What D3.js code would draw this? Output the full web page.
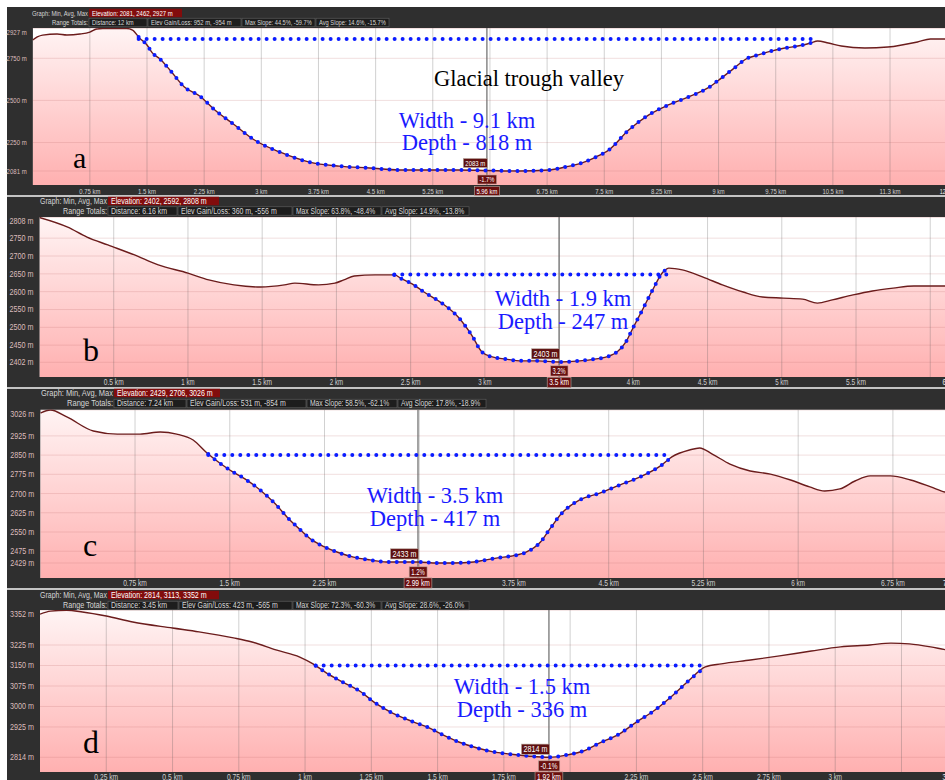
<!DOCTYPE html>
<html>
<head>
<meta charset="utf-8">
<script src="https://cdn.jsdelivr.net/npm/d3@7"></script>
<style>
  body { margin: 0; background: #fff; }
  svg { display: block; font-family: "Liberation Sans", Arial, sans-serif; }
</style>
</head>
<body>
<svg id="chart"></svg>
<script>
// ---------- data: [distance km, elevation m] ----------
const aProfile = [[0,2859],[0.06,2877],[0.13,2888],[0.32,2894],[0.45,2888],[0.62,2894],[0.75,2906],[0.84,2924],[0.92,2927],[1.23,2927],[1.31,2918],[1.40,2871],[1.50,2829],[1.57,2782],[1.67,2746],[1.80,2681],[1.99,2580],[2.19,2526],[2.39,2443],[2.65,2354],[2.91,2265],[3.24,2194],[3.63,2134],[4.02,2110],[4.42,2099],[4.81,2087],[5.20,2087],[5.59,2087],[5.96,2084],[6.38,2081],[6.77,2087],[6.99,2105],[7.20,2128],[7.39,2164],[7.56,2206],[7.82,2324],[8.08,2413],[8.34,2473],[8.60,2520],[8.86,2574],[9.0,2620],[9.2,2690],[9.36,2746],[9.52,2770],[9.69,2793],[9.87,2811],[10.04,2823],[10.21,2841],[10.30,2853],[10.44,2841],[10.61,2823],[10.92,2811],[11.22,2817],[11.61,2847],[11.78,2865],[11.94,2865],[12,2865]];
const bProfile = [[0,2808],[0.19,2781],[0.32,2753],[0.46,2731],[0.64,2703],[0.80,2675],[1.0,2652],[1.14,2633],[1.31,2619],[1.49,2613],[1.65,2619],[1.72,2624],[1.88,2619],[1.99,2624],[2.05,2633],[2.12,2644],[2.26,2647],[2.39,2647],[2.44,2636],[2.51,2622],[2.59,2599],[2.71,2568],[2.82,2529],[2.91,2479],[2.98,2431],[3.05,2417],[3.14,2411],[3.25,2406],[3.36,2406],[3.5,2403],[3.64,2406],[3.74,2411],[3.84,2420],[3.89,2431],[3.95,2459],[3.99,2492],[4.06,2548],[4.13,2605],[4.2,2655],[4.24,2666],[4.33,2661],[4.47,2641],[4.60,2619],[4.74,2599],[4.87,2585],[5.01,2582],[5.14,2579],[5.24,2568],[5.34,2577],[5.48,2591],[5.61,2602],[5.75,2610],[5.89,2616],[6.02,2616],[6.16,2616]];
const cProfile = [[0,3014],[0.08,3026],[0.21,2999],[0.42,2944],[0.61,2932],[0.79,2932],[0.95,2940],[1.08,2932],[1.21,2909],[1.32,2858],[1.42,2819],[1.50,2792],[1.62,2757],[1.74,2714],[1.86,2660],[1.96,2605],[2.06,2558],[2.15,2519],[2.25,2492],[2.37,2468],[2.48,2452],[2.61,2441],[2.74,2433],[2.87,2433],[2.99,2433],[3.14,2429],[3.27,2429],[3.43,2433],[3.48,2437],[3.62,2449],[3.74,2457],[3.85,2472],[3.96,2511],[4.04,2566],[4.13,2624],[4.27,2675],[4.43,2702],[4.59,2734],[4.75,2765],[4.91,2808],[5.0,2843],[5.14,2870],[5.22,2878],[5.32,2854],[5.46,2815],[5.62,2788],[5.78,2776],[5.94,2753],[6.09,2726],[6.21,2710],[6.33,2718],[6.45,2749],[6.57,2769],[6.73,2769],[6.89,2753],[7.05,2726],[7.16,2706],[7.24,2700]];
const dProfile = [[0,3338],[0.04,3349],[0.10,3352],[0.16,3346],[0.25,3331],[0.35,3309],[0.50,3287],[0.60,3273],[0.73,3251],[0.80,3236],[0.89,3207],[0.98,3181],[1.03,3156],[1.08,3123],[1.14,3090],[1.21,3054],[1.26,3016],[1.33,2976],[1.41,2943],[1.47,2921],[1.52,2896],[1.58,2870],[1.65,2848],[1.71,2834],[1.77,2826],[1.84,2819],[1.92,2814],[1.99,2823],[2.05,2837],[2.11,2866],[2.18,2896],[2.25,2943],[2.32,2987],[2.38,3035],[2.45,3097],[2.51,3145],[2.57,3156],[2.68,3170],[2.79,3185],[2.91,3203],[3.02,3218],[3.13,3225],[3.21,3232],[3.28,3229],[3.36,3218],[3.42,3207],[3.45,3203]];

// y-axis tick labels (top -> bottom), x-axis ticks (km)
const aYTicks = [2927, 2750, 2500, 2250, 2081];
const bYTicks = [2808, 2750, 2700, 2650, 2600, 2550, 2500, 2450, 2402];
const cYTicks = [3026, 2925, 2850, 2775, 2700, 2625, 2550, 2475, 2429];
const dYTicks = [3352, 3225, 3150, 3075, 3000, 2925, 2814];
const aXTicks = [0.75, 1.5, 2.25, 3, 3.75, 4.5, 5.25, 6, 6.75, 7.5, 8.25, 9, 9.75, 10.5, 11.25];
const aXLabels = ['0.75 km', '1.5 km', '2.25 km', '3 km', '3.75 km', '4.5 km', '5.25 km', '', '6.75 km', '7.5 km', '8.25 km', '9 km', '9.75 km', '10.5 km', '11.3 km'];
const bXTicks = [0.5, 1, 1.5, 2, 2.5, 3, 3.5, 4, 4.5, 5, 5.5, 6];
const bXLabels = ['0.5 km', '1 km', '1.5 km', '2 km', '2.5 km', '3 km', '', '4 km', '4.5 km', '5 km', '5.5 km', ''];
const cXTicks = [0.75, 1.5, 2.25, 3, 3.75, 4.5, 5.25, 6, 6.75];
const cXLabels = ['0.75 km', '1.5 km', '2.25 km', '', '3.75 km', '4.5 km', '5.25 km', '6 km', '6.75 km'];
const dXTicks = [0.25, 0.5, 0.75, 1, 1.25, 1.5, 1.75, 2, 2.25, 2.5, 2.75, 3, 3.25];
const dXLabels = ['0.25 km', '0.5 km', '0.75 km', '1 km', '1.25 km', '1.5 km', '1.75 km', '', '2.25 km', '2.5 km', '2.75 km', '3 km', ''];

// total distance of each profile
const aLength = 12, bLength = 6.16, cLength = 7.24, dLength = 3.45;
const endLabels = ['12 km', '6.16 km', '7.24 km', '3.45 km'];

// header statistics
const aHeader = ['Elevation: 2081, 2462, 2927 m', 'Distance: 12 km', 'Elev Gain/Loss: 952 m, -954 m', 'Max Slope: 44.5%, -59.7%', 'Avg Slope: 14.6%, -15.7%'];
const bHeader = ['Elevation: 2402, 2592, 2808 m', 'Distance: 6.16 km', 'Elev Gain/Loss: 360 m, -556 m', 'Max Slope: 63.8%, -48.4%', 'Avg Slope: 14.9%, -13.8%'];
const cHeader = ['Elevation: 2429, 2706, 3026 m', 'Distance: 7.24 km', 'Elev Gain/Loss: 531 m, -854 m', 'Max Slope: 58.5%, -62.1%', 'Avg Slope: 17.8%, -18.9%'];
const dHeader = ['Elevation: 2814, 3113, 3352 m', 'Distance: 3.45 km', 'Elev Gain/Loss: 423 m, -565 m', 'Max Slope: 72.3%, -60.3%', 'Avg Slope: 28.6%, -26.0%'];

// cursor: [km, elevation label, slope label, distance label]
const aCursor = [5.96, '2083 m', '-1.7%', '5.96 km'];
const bCursor = [3.5, '2403 m', '3.2%', '3.5 km'];
const cCursor = [2.99, '2433 m', '1.2%', '2.99 km'];
const dCursor = [1.92, '2814 m', '-0.1%', '1.92 km'];

// valley rim: [left km, right km, rim elevation m]
const aRim = [1.39, 10.30, 2865];
const bRim = [2.39, 4.23, 2648];
const cRim = [1.33, 5.0, 2850];
const dRim = [1.04, 2.51, 3150];

const widthLabels = ['Width - 9.1 km', 'Width - 1.9 km', 'Width - 3.5 km', 'Width - 1.5 km'];
const depthLabels = ['Depth - 818 m', 'Depth - 247 m', 'Depth - 417 m', 'Depth - 336 m'];
const panelLetters = ['a', 'b', 'c', 'd'];

// ---------- layout ----------
const W = 945, H = 780;
const svg = d3.select('#chart').attr('width', W).attr('height', H);
svg.append('rect').attr('width', W).attr('height', H).attr('fill', '#fff');
const defs = svg.append('defs');

// cw* = average char width used to squeeze the small UI font
const panels = [
  { profile: aProfile, yTicks: aYTicks, xTicks: aXTicks, xLabels: aXLabels, length: aLength, header: aHeader, cursor: aCursor, rim: aRim,
    top: 7, bottom: 195, x0: 32.7, pTop: 28, pBottom: 185, yRange: [171, 28.5], fs: 7.5, xLabelY: 191,
    cwH: 2.78, cwX: 3.0, cwY: 3.35, graphW: 56, rangeW: 36,
    split: 88, hy1: 13, hy2: 22.5, hh: 8.5, c1: [89, 182], c2: [89, 148, 242, 316, 390],
    letter: [73, 168, 30], note: [467, 128, 150] },
  { profile: bProfile, yTicks: bYTicks, xTicks: bXTicks, xLabels: bXLabels, length: bLength, header: bHeader, cursor: bCursor, rim: bRim,
    top: 197, bottom: 387, x0: 39.5, pTop: 217, pBottom: 377, yRange: [362.3, 217.5], fs: 8.5, xLabelY: 382.5,
    cwH: 3.3, cwX: 3.3, cwY: 4.0, graphW: 67, rangeW: 44,
    split: 107, hy1: 201, hy2: 211, hh: 8.5, c1: [108, 219], c2: [108, 178, 293, 382, 470],
    letter: [83, 361, 32], note: [563, 306, 329] },
  { profile: cProfile, yTicks: cYTicks, xTicks: cXTicks, xLabels: cXLabels, length: cLength, header: cHeader, cursor: cCursor, rim: cRim,
    top: 389, bottom: 588, x0: 40.3, pTop: 409.5, pBottom: 578, yRange: [563, 410], fs: 8.5, xLabelY: 583,
    cwH: 3.3, cwX: 3.4, cwY: 4.0, graphW: 72, rangeW: 46,
    split: 113, hy1: 393, hy2: 403.5, hh: 8.5, c1: [114, 220], c2: [114, 187, 307, 398, 487],
    letter: [83, 556, 32], note: [435, 503, 526] },
  { profile: dProfile, yTicks: dYTicks, xTicks: dXTicks, xLabels: dXLabels, length: dLength, header: dHeader, cursor: dCursor, rim: dRim,
    top: 590, bottom: 780, x0: 40, pTop: 610, pBottom: 772, yRange: [757.3, 610.3], fs: 8.5, xLabelY: 777,
    cwH: 3.3, cwX: 3.4, cwY: 4.0, graphW: 67, rangeW: 44,
    split: 107, hy1: 595, hy2: 605.5, hh: 8.5, c1: [108, 219], c2: [108, 179, 293, 382, 470],
    letter: [83, 753, 32], note: [522, 694, 717] }
];

// light separators between panels
[[195, 197], [387, 389], [588, 590]].forEach(([a, b]) => {
  svg.append('rect').attr('x', 7).attr('y', a).attr('width', W - 7).attr('height', b - a).attr('fill', '#c4c4c4');
});

function squeeze(sel, w) {
  return sel.attr('textLength', w).attr('lengthAdjust', 'spacingAndGlyphs');
}

function labelBox(g, cx, cy, text, fs, anchor, fill, w) {
  const t = g.append('text')
    .attr('x', cx).attr('y', cy).attr('dy', '0.35em')
    .attr('font-size', fs).attr('fill', '#fff')
    .attr('text-anchor', anchor).text(text);
  squeeze(t, w);
  const bb = t.node().getBBox();
  g.insert('rect', () => t.node())
    .attr('x', bb.x - 2).attr('y', cy - fs * 0.6)
    .attr('width', bb.width + 4).attr('height', fs * 1.2)
    .attr('fill', fill).attr('stroke', '#b9aaa0').attr('stroke-width', 0.6);
}

function elevAt(profile, km) {
  const i = d3.bisector(d => d[0]).left(profile, km);
  if (i <= 0) return profile[0][1];
  if (i >= profile.length) return profile[profile.length - 1][1];
  const a = profile[i - 1], b = profile[i];
  return a[1] + (b[1] - a[1]) * (km - a[0]) / (b[0] - a[0]);
}

const serif = '"Liberation Serif", "Times New Roman", serif';

panels.forEach((p, i) => {
  const g = svg.append('g');
  // dark frame
  g.append('rect').attr('x', 7).attr('y', p.top).attr('width', W - 7).attr('height', p.bottom - p.top).attr('fill', '#2f2f2f');

  // the full profile spans ~914px, so the far end runs past the window
  const x = d3.scaleLinear().domain([0, p.length]).range([p.x0, p.x0 + 914.5]);
  const y = d3.scaleLinear().domain([p.yTicks[p.yTicks.length - 1], p.yTicks[0]]).range(p.yRange);

  defs.append('clipPath').attr('id', 'clip' + i)
    .append('rect').attr('x', p.x0).attr('y', p.pTop).attr('width', W - p.x0).attr('height', p.pBottom - p.pTop);
  const grad = defs.append('linearGradient').attr('id', 'grad' + i)
    .attr('gradientUnits', 'userSpaceOnUse').attr('x1', 0).attr('x2', 0).attr('y1', p.pTop).attr('y2', p.pBottom);
  grad.append('stop').attr('offset', 0).attr('stop-color', '#fff4f4');
  grad.append('stop').attr('offset', 1).attr('stop-color', '#ffb0b0');

  const plot = g.append('g').attr('clip-path', `url(#clip${i})`);
  plot.append('rect').attr('x', p.x0).attr('y', p.pTop).attr('width', W - p.x0).attr('height', p.pBottom - p.pTop).attr('fill', '#fff');

  const area = d3.area().x(d => x(d[0])).y0(p.pBottom).y1(d => y(d[1])).curve(d3.curveMonotoneX);
  plot.append('path').datum(p.profile).attr('d', area).attr('fill', `url(#grad${i})`);

  // grid
  plot.selectAll('.hg').data(p.yTicks).enter().append('line')
    .attr('x1', p.x0).attr('x2', W).attr('y1', d => y(d)).attr('y2', d => y(d))
    .attr('stroke', 'rgba(190,110,110,0.22)').attr('stroke-width', 1);
  plot.selectAll('.vg').data(p.xTicks).enter().append('line')
    .attr('x1', d => x(d)).attr('x2', d => x(d)).attr('y1', p.pTop).attr('y2', p.pBottom)
    .attr('stroke', 'rgba(90,90,90,0.28)').attr('stroke-width', 1);

  // cursor line
  plot.append('line').attr('x1', x(p.cursor[0])).attr('x2', x(p.cursor[0]))
    .attr('y1', p.pTop).attr('y2', p.pBottom).attr('stroke', '#6a6a6a').attr('stroke-width', 1.2);

  // profile line
  const line = d3.line().x(d => x(d[0])).y(d => y(d[1])).curve(d3.curveMonotoneX);
  plot.append('path').datum(p.profile).attr('d', line)
    .attr('fill', 'none').attr('stroke', '#6b1c1c').attr('stroke-width', 1.4);

  // valley dotted outline
  const [rl, rr, re] = p.rim;
  const valley = [[rl, elevAt(p.profile, rl)]]
    .concat(p.profile.filter(d => d[0] > rl && d[0] < rr))
    .concat([[rr, elevAt(p.profile, rr)]]);
  const dotStyle = s => s.attr('fill', 'none').attr('stroke', '#0b1cff').attr('stroke-width', 4)
    .attr('stroke-linecap', 'round').attr('stroke-dasharray', '0 8');
  plot.append('path').datum([[rl, re], [rr, re]]).attr('d', d3.line().x(d => x(d[0])).y(d => y(d[1]))).call(dotStyle);
  plot.append('path').datum(valley).attr('d', line).call(dotStyle);

  // y labels
  g.selectAll('.yl').data(p.yTicks).enter().append('text')
    .attr('x', p.x0 - 6).attr('y', d => Math.min(Math.max(y(d), p.pTop + 4.5), p.pBottom - 5))
    .attr('dy', '0.35em').attr('text-anchor', 'end')
    .attr('font-size', p.fs).attr('fill', '#dcbcbc').text(d => d + ' m')
    .call(s => squeeze(s, 6 * p.cwY));

  // x labels
  p.xTicks.forEach((t, k) => {
    if (!p.xLabels[k]) return;
    g.append('text').attr('x', x(t)).attr('y', p.xLabelY).attr('dy', '0.35em').attr('text-anchor', 'middle')
      .attr('font-size', p.fs).attr('fill', '#cfcfcf').text(p.xLabels[k])
      .call(s => squeeze(s, p.xLabels[k].length * p.cwX));
  });
  g.append('text').attr('x', x(p.length)).attr('y', p.xLabelY).attr('dy', '0.35em').attr('text-anchor', 'middle')
    .attr('font-size', p.fs).attr('fill', '#f2f2f2').text(endLabels[i])
    .call(s => squeeze(s, endLabels[i].length * p.cwX));

  // cursor boxes
  const cx = x(p.cursor[0]);
  const cyCurve = y(elevAt(p.profile, p.cursor[0]));
  labelBox(g, cx - 1.5, cyCurve - 3 - p.fs * 0.6, p.cursor[1], p.fs, 'end', '#5e1010', p.cursor[1].length * p.cwY);
  labelBox(g, cx, p.pBottom - 1 - p.fs * 0.6, p.cursor[2], p.fs, 'middle', '#6a0f0f', p.cursor[2].length * p.cwX);
  labelBox(g, cx, p.xLabelY, p.cursor[3], p.fs, 'middle', '#6a0f0f', p.cursor[3].length * p.cwX);

  // header rows
  g.append('text').attr('x', p.split).attr('y', p.hy1).attr('dy', '0.35em').attr('text-anchor', 'end')
    .attr('font-size', p.fs).attr('fill', '#d6d6d6').text('Graph: Min, Avg, Max')
    .call(s => squeeze(s, p.graphW));
  g.append('text').attr('x', p.split).attr('y', p.hy2).attr('dy', '0.35em').attr('text-anchor', 'end')
    .attr('font-size', p.fs).attr('fill', '#d6d6d6').text('Range Totals:')
    .call(s => squeeze(s, p.rangeW));
  g.append('rect').attr('x', p.c1[0]).attr('y', p.hy1 - p.hh / 2).attr('width', p.c1[1] - p.c1[0]).attr('height', p.hh)
    .attr('fill', '#820c0c');
  g.append('text').attr('x', p.c1[0] + 3).attr('y', p.hy1).attr('dy', '0.35em')
    .attr('font-size', p.fs).attr('fill', '#fff').text(p.header[0])
    .call(s => squeeze(s, p.header[0].length * p.cwH));
  for (let k = 0; k < 4; k++) {
    const txt = p.header[k + 1];
    g.append('rect').attr('x', p.c2[k]).attr('y', p.hy2 - p.hh / 2).attr('width', p.c2[k + 1] - p.c2[k] - 1).attr('height', p.hh)
      .attr('fill', '#1d1d1d').attr('stroke', '#5a5a5a').attr('stroke-width', 0.7);
    g.append('text').attr('x', p.c2[k] + 3).attr('y', p.hy2).attr('dy', '0.35em')
      .attr('font-size', p.fs).attr('fill', '#d6d6d6').text(txt)
      .call(s => squeeze(s, Math.min(txt.length * p.cwH, p.c2[k + 1] - p.c2[k] - 6)));
  }

  // annotations
  g.append('text').attr('x', p.letter[0]).attr('y', p.letter[1])
    .attr('font-family', serif).attr('font-size', p.letter[2])
    .attr('fill', '#000').text(panelLetters[i]);
  [[widthLabels[i], p.note[1]], [depthLabels[i], p.note[2]]].forEach(([t, yy]) => {
    g.append('text').attr('x', p.note[0]).attr('y', yy).attr('text-anchor', 'middle')
      .attr('font-family', serif).attr('font-size', 22.5)
      .attr('fill', '#1a1aff').text(t);
  });
  if (i === 0) {
    g.append('text').attr('x', 529).attr('y', 86).attr('text-anchor', 'middle')
      .attr('font-family', serif).attr('font-size', 22.5)
      .attr('fill', '#000').text('Glacial trough valley');
  }
});
</script>
</body>
</html>
